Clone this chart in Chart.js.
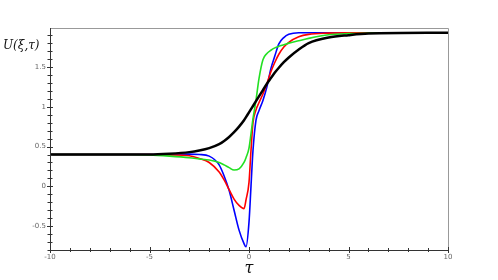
<!DOCTYPE html>
<html>
<head>
<meta charset="utf-8">
<script src="https://cdn.jsdelivr.net/npm/chart.js@4"></script>
<style>
  html, body { margin: 0; padding: 0; background: #fff; }
  #wrap { width: 498px; height: 280px; }
</style>
</head>
<body>
<div id="wrap"><canvas id="waveChart" width="498" height="280"></canvas></div>
<script>
// tau grid (denser near the jump) and the four U(xi,tau) curves
const tau = [-10, -6, -5, -4, -3, -2.5, -2, -1.5, -1.25, -1, -0.75, -0.5, -0.25, -0.15, 0, 0.1,
             0.2, 0.35, 0.5, 0.7, 0.9, 1.1, 1.3, 1.5, 1.75, 2, 2.5, 3, 4, 5, 6, 10];
const uBlack = [0.40, 0.40, 0.40, 0.41, 0.43, 0.45, 0.48, 0.53, 0.57, 0.62, 0.68, 0.75, 0.83, 0.87, 0.93, 0.97,
                1.01, 1.07, 1.13, 1.21, 1.29, 1.36, 1.43, 1.49, 1.56, 1.62, 1.72, 1.80, 1.87, 1.90, 1.92, 1.93];
const uGreen = [0.40, 0.40, 0.395, 0.38, 0.36, 0.345, 0.33, 0.30, 0.27, 0.235, 0.205, 0.22, 0.30, 0.36, 0.48, 0.66,
                0.85, 1.08, 1.35, 1.59, 1.67, 1.71, 1.74, 1.76, 1.78, 1.80, 1.83, 1.86, 1.905, 1.92, 1.925, 1.93];
const uRed = [0.40, 0.40, 0.40, 0.395, 0.385, 0.35, 0.30, 0.18, 0.08, -0.04, -0.16, -0.24, -0.28, -0.17, 0.05, 0.45,
              0.80, 0.96, 1.05, 1.16, 1.29, 1.44, 1.56, 1.66, 1.75, 1.81, 1.88, 1.91, 1.925, 1.93, 1.93, 1.93];
const uBlue = [0.40, 0.40, 0.40, 0.40, 0.405, 0.40, 0.38, 0.27, 0.13, -0.05, -0.30, -0.55, -0.72, -0.76, -0.45, 0.0,
               0.45, 0.83, 0.95, 1.08, 1.25, 1.48, 1.64, 1.79, 1.87, 1.91, 1.93, 1.93, 1.93, 1.93, 1.93, 1.93];

const xMajor = [-10, -5, 0, 5, 10];
const yMajor = [-0.5, 0, 0.5, 1, 1.5];

function pts(ys) {
    return tau.map((t, i) => ({ x: t, y: ys[i] }));
}

function isMajor(v, list) {
    return list.some(m => Math.abs(m - v) < 1e-6);
}

// frame, crossing ticks and axis titles
const framePlugin = {
    id: 'frame',
    afterDraw(chart) {
        const ctx = chart.ctx;
        const a = chart.chartArea;
        const xs = chart.scales.x, ys = chart.scales.y;
        ctx.save();
        ctx.strokeStyle = '#999';
        ctx.lineWidth = 1;
        ctx.beginPath();
        ctx.moveTo(a.left, a.top + 0.5);
        ctx.lineTo(a.right + 0.5, a.top + 0.5);
        ctx.lineTo(a.right + 0.5, a.bottom);
        ctx.stroke();

        ctx.strokeStyle = '#333';
        ctx.beginPath();
        ctx.moveTo(a.left + 0.5, a.top);
        ctx.lineTo(a.left + 0.5, a.bottom + 0.5);
        ctx.lineTo(a.right, a.bottom + 0.5);
        ctx.stroke();

        ctx.beginPath();
        for (let i = -100; i <= 100; i++) {
            const v = i;
            if (v < xs.min || v > xs.max) continue;
            const px = Math.round(xs.getPixelForValue(v)) + 0.5;
            const h = isMajor(v, xMajor) ? 3 : 2;
            ctx.moveTo(px, a.bottom - h);
            ctx.lineTo(px, a.bottom + h);
        }
        for (let i = -10; i <= 25; i++) {
            const v = i / 10;
            if (v < ys.min || v > ys.max) continue;
            const py = Math.round(ys.getPixelForValue(v)) + 0.5;
            const w = isMajor(v, yMajor) ? 3 : 2.5;
            ctx.moveTo(a.left - w, py);
            ctx.lineTo(a.left + w, py);
        }
        ctx.stroke();

        ctx.fillStyle = '#111';
        ctx.textBaseline = 'alphabetic';
        ctx.textAlign = 'left';
        ctx.font = 'italic 12px "DejaVu Serif"';
        ctx.fillText('U(ξ,τ)', 3, 49);
        ctx.textAlign = 'center';
        ctx.font = 'italic 16px "DejaVu Serif"';
        ctx.fillText('τ', xs.getPixelForValue(0), 273);
        ctx.restore();
    }
};

document.addEventListener('DOMContentLoaded', function() {
    const ctx = document.getElementById('waveChart').getContext('2d');

    const line = (label, ys, color, width) => ({
        label: label,
        data: pts(ys),
        borderColor: color,
        borderWidth: width,
        pointRadius: 0,
        fill: false,
        cubicInterpolationMode: 'monotone'
    });

    new Chart(ctx, {
        type: 'line',
        data: {
            datasets: [
                line('black', uBlack, '#000000', 2.5),
                line('green', uGreen, '#22e022', 1.6),
                line('red', uRed, '#ff0000', 1.6),
                line('blue', uBlue, '#0000ff', 1.6)
            ]
        },
        options: {
            responsive: false,
            animation: false,
            devicePixelRatio: 1,
            layout: { padding: { top: 28, right: 50, left: 0, bottom: 0 } },
            plugins: {
                legend: { display: false },
                tooltip: { enabled: false }
            },
            scales: {
                x: {
                    type: 'linear',
                    min: -10,
                    max: 10,
                    afterFit: s => { s.height = 30; },
                    grid: { display: false, drawTicks: false },
                    border: { display: false },
                    ticks: {
                        stepSize: 5,
                        padding: 3,
                        maxRotation: 0,
                        autoSkip: false,
                        color: '#666',
                        font: { family: 'DejaVu Sans', size: 7 },
                        callback: v => isMajor(v, xMajor) ? String(v) : ''
                    }
                },
                y: {
                    min: -0.8,
                    max: 1.99,
                    afterFit: s => { s.width = 50; },
                    grid: { display: false, drawTicks: false },
                    border: { display: false },
                    ticks: {
                        stepSize: 0.5,
                        padding: 4,
                        autoSkip: false,
                        color: '#666',
                        font: { family: 'DejaVu Sans', size: 7 },
                        callback: v => isMajor(v, yMajor) ? String(Math.round(v * 10) / 10) : ''
                    }
                }
            }
        },
        plugins: [framePlugin]
    });
});
</script>
</body>
</html>
